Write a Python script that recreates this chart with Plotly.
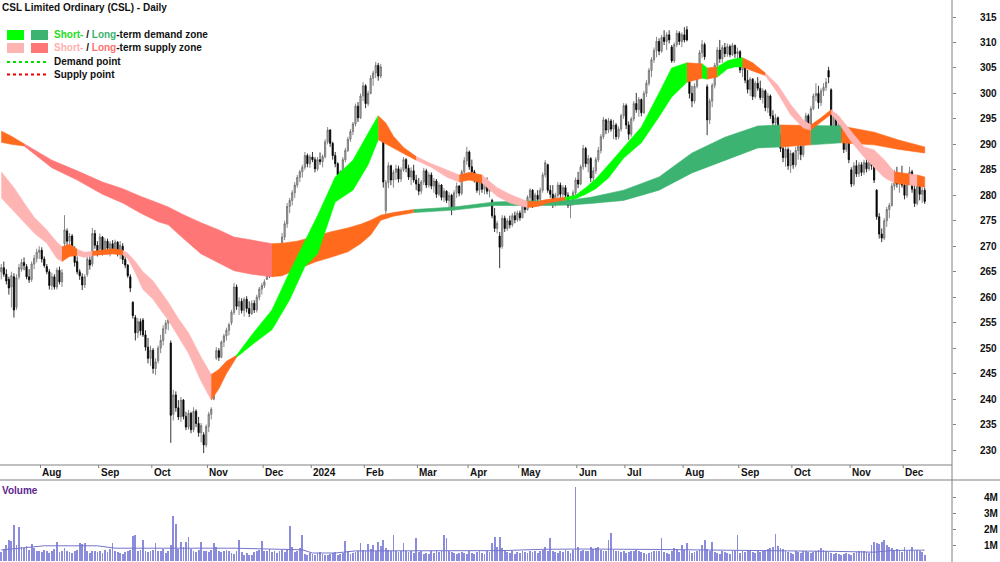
import numpy as np
import pandas as pd
import plotly.graph_objects as go

# ---------------- data ----------------
OPEN = [
265.0,265.8,264.5,263.5,262.0,264.0,258.0,264.0,265.5,266.8,
266.0,264.0,263.5,266.5,267.6,268.8,269.2,267.5,266.0,265.0,
262.3,264.0,262.0,265.3,263.0,270.5,273.0,271.0,272.0,269.5,
267.0,265.0,264.0,262.4,264.5,267.3,266.5,272.5,270.2,269.5,
271.8,269.0,271.0,269.5,270.5,269.2,270.8,269.0,270.0,267.4,
266.3,264.0,259.0,256.0,253.0,255.2,255.5,252.6,250.2,248.0,
249.6,246.0,247.5,250.0,251.5,253.8,254.9,251.0,237.0,240.8,
238.3,236.5,239.8,236.6,234.5,237.2,234.0,237.6,235.2,233.4,
233.0,231.0,234.6,237.0,240.0,248.0,249.5,248.2,251.2,252.4,
253.5,255.0,257.0,262.0,258.2,259.2,257.4,259.6,257.8,256.8,
258.8,257.5,260.0,261.6,262.3,263.5,266.8,264.5,267.8,265.5,
267.6,270.0,271.8,274.4,277.8,279.0,280.5,282.0,283.5,284.6,
285.5,287.8,286.2,287.5,287.0,285.2,287.0,286.6,287.6,290.5,
292.8,290.2,287.8,286.2,284.0,284.6,287.0,288.8,291.0,292.5,
294.0,297.5,295.2,299.5,301.5,298.0,300.0,303.0,304.0,305.5,
303.4,291.0,277.0,282.5,285.8,283.0,284.5,285.2,283.2,285.0,
287.0,285.3,283.6,284.8,283.0,282.2,280.8,282.6,284.8,282.0,
284.0,281.8,282.8,280.2,282.0,279.6,280.8,279.0,280.0,277.5,
280.5,281.8,280.4,284.6,286.8,288.5,285.6,284.6,283.2,281.0,
283.0,281.2,282.6,280.8,279.0,276.0,273.5,272.0,270.0,275.5,
273.5,275.0,274.2,276.0,275.2,276.5,275.6,278.2,277.2,279.6,
281.0,278.2,280.0,279.2,281.0,284.0,286.0,281.0,280.2,278.2,
280.0,282.0,280.2,281.5,280.0,278.0,278.6,280.5,283.0,282.2,
285.6,289.2,286.2,287.2,283.4,284.8,287.0,288.8,291.5,294.8,
292.8,294.6,293.0,293.8,291.5,293.0,295.6,297.6,293.8,292.0,
295.0,298.0,296.8,298.8,296.2,300.0,302.0,304.5,306.6,308.4,
310.2,308.3,311.0,310.2,311.5,309.1,306.4,309.6,311.8,310.2,
311.5,312.5,304.0,300.0,298.5,301.4,304.0,308.0,309.6,301.3,
294.8,298.5,301.6,305.5,308.5,306.8,309.0,307.8,309.2,307.6,
309.4,307.8,308.2,304.6,305.8,302.6,300.8,302.8,299.4,302.0,
301.0,299.2,300.5,297.2,299.5,295.6,294.2,295.2,291.2,289.2,
287.4,289.0,285.8,288.2,286.0,288.8,289.6,288.0,293.0,295.6,
293.5,297.0,299.5,300.0,298.2,300.5,301.2,304.5,300.7,293.5,
295.5,292.8,293.8,291.2,289.0,290.8,285.0,282.2,285.8,284.2,
286.0,284.5,286.4,285.2,287.2,285.8,281.0,275.8,272.4,271.6,
275.0,277.2,278.0,281.8,284.2,282.2,283.4,282.0,280.0,283.0,
284.6,281.2,278.4,281.8,280.2,281.0]

HIGH = [
266.5,267.0,265.5,264.0,265.0,264.7,264.5,266.5,267.5,267.8,
266.5,265.5,267.0,268.3,269.5,270.0,269.8,268.0,266.5,265.5,
264.8,264.5,265.8,266.0,265.5,276.1,273.5,272.6,272.4,270.0,
268.0,265.5,264.7,264.5,268.3,268.0,273.6,273.2,271.0,272.5,
272.0,271.6,271.5,271.0,271.2,271.3,271.0,271.0,270.6,268.5,
266.5,264.5,259.2,256.5,255.9,255.8,255.9,253.5,252.0,250.5,
250.0,248.0,250.5,252.6,254.5,255.5,256.1,251.5,241.8,241.5,
239.8,240.4,240.0,237.5,237.9,237.5,238.4,238.0,236.5,235.3,
233.5,235.0,237.5,238.4,244.3,250.2,250.0,251.5,252.8,254.0,
255.0,257.5,262.8,262.5,260.0,259.8,260.0,260.2,259.2,259.4,
259.4,260.5,262.0,262.8,263.5,267.3,267.0,268.6,268.5,268.0,
270.5,272.6,275.0,278.5,279.5,281.0,282.6,284.0,285.0,286.0,
288.5,288.2,288.0,288.5,287.5,287.5,288.4,288.0,291.0,293.4,
293.0,290.5,288.5,286.5,285.0,287.5,289.3,291.5,293.0,294.4,
298.0,298.3,300.0,302.2,301.8,300.5,303.6,304.5,306.2,306.0,
305.8,292.0,283.0,286.5,286.0,285.0,286.0,285.8,285.5,287.5,
287.3,286.0,285.5,286.0,284.0,283.4,283.0,285.4,285.2,284.5,
284.5,283.4,283.2,282.5,282.2,281.4,281.0,280.6,280.3,281.0,
282.5,282.0,285.0,287.5,289.5,288.8,287.0,285.0,284.0,283.5,
283.5,283.0,283.5,282.4,279.3,277.5,275.0,272.8,276.1,276.0,
275.5,276.0,276.5,276.8,277.0,277.0,278.7,278.5,280.0,281.4,
281.2,280.5,281.0,281.5,284.5,286.9,286.2,282.0,282.0,280.5,
282.6,282.5,282.0,282.0,280.6,279.0,281.0,283.5,284.6,286.0,
289.9,289.5,287.9,287.5,285.5,287.5,289.5,292.0,295.4,295.0,
295.2,295.0,294.8,294.2,293.5,296.0,298.1,298.0,294.5,295.4,
298.5,300.1,299.3,299.0,300.5,302.6,305.0,307.1,309.0,311.1,
310.8,311.5,312.4,312.0,312.4,309.5,310.0,312.4,312.2,312.0,
313.0,313.2,304.6,301.5,302.0,304.5,308.5,310.5,310.0,301.8,
299.0,302.0,306.0,309.1,310.5,309.5,309.9,309.8,309.6,309.9,
309.6,309.0,308.5,306.5,306.0,304.6,303.2,303.0,302.5,303.2,
302.5,301.0,300.8,300.1,299.8,296.7,296.0,295.5,292.0,290.9,
289.5,289.4,288.9,288.5,289.5,290.3,290.0,293.5,296.2,296.0,
297.5,300.0,302.0,301.5,301.0,302.0,303.0,305.2,301.0,296.2,
296.0,294.5,294.0,292.8,291.5,291.0,285.5,286.5,286.9,286.5,
286.5,287.0,287.5,287.8,288.0,286.3,281.2,276.5,273.5,275.5,
277.7,278.5,282.4,285.0,285.6,284.0,285.8,283.8,283.5,285.6,
285.0,283.0,282.4,282.5,281.6,281.5]

LOW = [
263.5,264.0,262.5,260.5,258.0,256.0,257.5,263.5,265.0,265.3,
263.5,262.8,263.0,265.5,266.8,267.5,266.8,265.8,264.5,261.5,
261.4,261.5,261.5,262.5,262.0,269.3,270.0,269.5,268.5,266.0,
264.5,263.4,261.4,261.8,264.0,265.4,266.0,269.5,268.0,269.0,
268.2,268.5,269.0,268.0,268.5,268.8,268.0,267.5,266.5,265.7,
263.8,261.0,255.8,251.5,252.0,252.5,252.2,249.5,247.0,246.5,
245.0,244.7,247.0,249.0,250.5,252.8,253.5,231.4,235.8,237.5,
235.9,235.5,236.0,233.9,234.0,233.3,233.5,234.5,232.6,231.5,
229.4,230.5,233.5,236.0,239.8,247.7,247.5,248.0,250.2,251.5,
252.5,254.5,256.5,257.5,256.5,256.8,256.2,257.0,256.1,256.5,
256.9,257.0,259.4,260.5,261.8,263.4,263.8,264.0,264.7,265.0,
267.0,268.6,271.2,273.6,276.5,278.0,279.5,281.5,282.6,283.5,
285.0,285.5,285.4,286.5,284.5,284.8,286.0,285.5,287.2,290.0,
289.5,287.0,285.5,283.5,282.4,284.0,286.5,288.5,290.5,291.8,
293.5,294.4,295.0,298.5,297.1,297.5,299.8,301.5,303.0,302.5,
303.0,281.5,275.5,281.4,282.0,281.5,283.0,282.5,282.6,284.6,
284.5,283.0,282.0,282.5,281.0,280.0,280.2,282.0,281.4,281.5,
281.2,280.5,279.5,279.8,279.0,278.7,278.5,277.5,276.1,277.0,
279.5,279.8,280.0,284.0,286.0,285.0,284.0,282.5,280.5,280.0,
280.5,280.2,280.2,279.6,275.5,272.8,272.5,265.7,269.5,272.8,
273.0,273.5,273.8,274.5,274.8,275.0,275.5,276.5,277.0,278.5,
277.5,277.8,278.8,279.0,280.5,283.5,280.5,279.5,277.5,277.8,
279.5,279.5,279.6,279.5,277.5,275.5,278.0,280.0,281.4,282.0,
285.0,285.5,284.5,282.6,281.6,284.2,286.5,288.2,291.0,292.0,
292.2,292.5,291.0,290.9,291.0,292.5,295.0,293.0,290.9,291.5,
294.5,296.2,295.4,295.5,296.0,299.3,301.5,303.2,306.0,307.1,
307.5,308.0,309.5,308.5,309.8,306.0,306.0,309.1,309.5,309.1,
310.0,310.2,299.0,297.3,298.0,301.0,303.5,307.0,306.6,291.8,
294.0,297.3,301.0,304.6,306.0,306.0,307.1,307.2,307.1,307.3,
307.0,306.5,304.0,303.2,302.0,300.0,299.5,298.7,299.0,300.5,
298.7,298.0,296.5,296.2,295.0,293.4,293.0,290.5,288.5,286.5,
285.6,285.0,284.4,285.2,285.5,287.0,286.9,287.5,292.2,292.5,
293.0,296.7,298.5,297.0,297.5,299.5,300.5,302.0,292.8,292.5,
292.2,291.5,290.5,288.3,288.5,286.3,281.6,281.8,283.6,283.6,
283.8,284.0,284.5,284.8,285.0,282.4,275.2,271.5,270.8,271.2,
273.8,275.5,277.8,281.0,281.5,280.5,281.5,279.2,279.5,282.0,
280.5,277.7,278.0,279.0,278.5,278.3]

CLOSE = [
265.8,264.5,263.2,261.8,264.2,257.5,263.8,265.8,266.8,266.2,
264.0,263.4,266.5,267.6,268.8,269.2,267.5,266.2,265.0,262.3,
264.0,262.0,265.3,263.0,264.8,273.2,271.0,272.0,269.2,266.8,
265.0,264.2,262.4,264.0,267.5,266.3,272.5,270.2,269.0,271.8,
268.8,271.0,269.6,270.5,269.2,270.8,268.8,270.2,267.4,266.3,
264.2,261.8,256.4,253.0,255.2,253.4,252.6,250.2,248.0,249.6,
246.0,247.3,250.0,251.5,253.8,254.9,255.6,236.8,240.8,238.3,
236.5,239.8,236.6,234.5,237.2,234.0,237.6,235.2,233.4,234.8,
231.0,234.6,237.0,238.0,244.0,249.5,248.2,251.2,252.4,253.5,
254.6,257.0,262.0,258.2,259.2,257.4,259.6,257.8,256.8,258.8,
257.5,260.0,261.6,262.3,263.0,266.8,264.2,267.8,265.5,267.6,
270.0,271.8,274.4,277.8,279.0,280.5,282.0,283.5,284.6,285.5,
287.8,286.2,287.5,287.0,285.2,287.0,286.6,287.6,290.5,292.8,
290.2,287.8,286.2,284.0,284.6,287.0,288.8,291.0,292.5,294.0,
297.5,295.2,299.5,301.5,298.0,300.0,303.0,304.0,305.5,303.4,
305.2,282.6,282.5,285.8,283.0,284.5,285.2,283.2,285.0,287.0,
285.3,283.6,284.8,283.0,282.2,280.8,282.6,284.8,282.0,284.0,
281.8,282.8,280.2,282.0,279.6,280.8,279.0,280.0,277.2,280.5,
281.8,280.4,284.6,286.8,288.5,285.6,284.6,283.2,281.0,283.0,
281.2,282.6,280.8,281.8,276.0,273.5,274.5,269.8,275.5,273.5,
275.0,274.2,276.0,275.2,276.5,275.6,278.2,277.2,279.6,281.0,
278.2,280.0,279.2,281.0,284.0,286.4,281.0,280.2,278.2,280.0,
282.0,280.2,281.5,280.0,278.0,278.6,280.5,283.0,282.2,285.6,
289.2,286.2,287.2,283.4,284.8,287.0,288.8,291.5,294.8,292.8,
294.6,293.0,293.8,291.5,293.0,295.6,297.6,293.8,292.0,295.0,
298.0,296.8,298.8,296.2,300.0,302.0,304.5,306.6,308.4,310.2,
308.3,311.0,310.2,311.5,310.5,306.4,309.6,311.8,310.2,311.5,
310.5,310.5,300.0,298.5,301.4,304.0,308.0,309.6,307.2,294.8,
298.5,301.6,305.5,308.5,306.8,309.0,307.8,309.2,307.6,309.4,
307.8,308.2,304.6,305.8,302.6,300.8,302.8,299.4,302.0,301.0,
299.2,300.5,297.2,299.5,295.6,294.2,295.2,291.2,289.2,287.4,
289.0,285.8,288.2,286.0,288.8,289.6,288.0,293.0,295.6,293.5,
297.0,299.5,300.0,298.2,300.5,301.2,302.2,303.2,293.5,295.5,
292.8,293.8,291.2,289.0,290.8,287.0,282.2,285.8,284.2,286.0,
284.5,286.4,285.2,287.2,285.8,283.0,275.8,272.4,271.6,275.0,
277.2,278.0,281.8,284.2,282.2,283.4,282.0,280.0,283.0,284.6,
281.2,278.4,281.8,280.2,281.0,278.8]

VOLUME_M = [
0.55,0.75,1.0,1.3,1.25,2.25,1.0,2.1,0.9,0.8,
0.95,0.7,1.05,0.8,0.65,0.6,0.55,0.7,0.6,0.5,
0.6,0.75,1.2,0.55,0.65,0.8,0.6,0.55,0.5,0.6,
0.7,1.1,1.05,1.1,0.6,0.5,0.6,0.65,0.55,0.6,
0.5,0.7,0.55,0.75,1.1,0.6,0.55,0.5,0.45,0.55,
0.6,0.7,1.55,1.65,0.6,0.7,1.3,0.65,0.55,0.6,
0.7,1.1,0.65,0.6,0.75,0.5,0.65,1.0,2.8,2.3,
0.75,1.2,0.9,1.2,1.5,0.75,0.6,0.55,0.7,1.2,
0.6,0.65,0.55,0.7,1.15,0.9,0.6,0.55,0.65,0.7,
0.6,0.5,0.45,0.6,1.3,0.55,0.4,0.5,0.35,0.4,
0.55,0.6,0.7,1.25,0.65,0.6,0.75,0.55,0.6,0.5,
0.6,0.7,0.55,0.75,2.2,0.9,0.55,0.6,0.8,1.6,
0.45,0.4,0.5,0.45,0.4,0.5,0.55,0.45,0.4,0.35,
0.45,0.5,0.55,0.4,0.45,0.5,1.25,0.6,0.45,0.5,
0.55,0.6,1.15,0.7,0.6,1.05,0.75,1.0,0.6,1.2,
0.95,1.3,0.8,0.7,0.65,1.6,0.6,0.55,0.65,1.15,
0.6,0.55,0.6,0.5,1.45,0.55,0.6,0.45,0.5,0.45,
0.6,0.5,0.7,0.55,0.6,1.6,1.45,0.6,0.55,0.5,
0.45,0.5,0.55,0.5,0.45,0.6,0.5,0.45,0.55,0.6,
0.5,0.45,0.6,0.55,1.1,1.5,0.9,1.5,0.8,0.6,
0.55,0.5,0.6,0.45,0.55,0.5,0.6,0.55,0.5,0.6,
0.55,0.65,0.5,0.6,0.7,0.9,0.65,1.45,0.6,0.55,
0.5,0.6,0.55,0.7,0.6,0.5,0.7,4.6,0.85,0.6,
0.7,0.65,0.6,0.9,0.75,0.8,0.85,0.7,0.6,0.65,
1.3,1.75,0.7,0.6,0.65,0.55,0.6,0.5,0.55,0.6,
0.65,0.7,0.6,0.55,0.5,0.45,0.5,0.55,0.6,0.65,
0.6,1.45,0.55,0.5,0.45,0.6,0.8,0.75,0.55,1.0,
0.7,1.15,0.6,0.5,0.55,0.6,0.7,1.0,1.3,0.75,
0.6,1.2,0.55,0.5,0.45,0.6,0.55,0.5,0.45,0.6,
0.6,1.6,0.5,0.6,0.55,0.7,0.6,0.55,0.5,0.6,
0.55,0.65,0.7,0.75,0.8,0.9,1.7,0.95,0.8,0.75,
0.6,0.55,0.5,0.45,0.6,0.55,0.5,0.6,0.65,0.55,
0.5,0.55,0.6,0.7,0.8,0.7,0.6,0.55,0.5,0.45,
0.5,0.45,0.4,0.45,0.5,0.45,0.4,0.5,0.55,0.6,
0.65,0.6,0.55,0.5,1.0,1.2,1.1,1.05,1.2,1.3,
1.0,0.9,0.8,0.6,0.75,0.65,0.55,0.9,0.6,0.7,
0.85,0.65,0.7,0.6,0.55,0.4]

# volume moving-average line
VMA_IDX = [0, 17, 38, 45, 92, 110, 119, 123, 132, 140, 198, 214, 230, 260, 290, 330, 345, 352, 365]
VMA_M = [0.69, 0.95, 0.95, 0.8, 0.8, 0.73, 0.7, 0.5, 0.5, 0.63, 0.65, 0.73, 0.75, 0.72, 0.68, 0.6, 0.55, 0.66, 0.68]

# short-term zone edges (knots) and colour of the stretch that follows each knot
ST_IDX = [0,5,10,13,18,22,24,27,30,33,36,40,44,48,50,53,56,60,63,66,70,74,79,83,86,89,93,
          100,107,114,120,125,132,139,145,149,152,155,159,164,170,176,181,185,190,196,201,
          208,212,216,220,223,227,231,235,240,246,253,260,265,271,277,279,283,287,290,293,
          297,302,307,312,317,320,324,328,331,336,341,345,349,353,359,362,365]
ST_TOP = [284.6,281.5,277.8,275.7,273.2,270.8,269.9,270.4,269.4,268.8,269.0,269.3,269.5,269.2,
          268.6,267.0,265.0,263.2,261.2,259.0,255.8,253.0,248.2,244.8,245.8,247.4,248.6,
          253.2,257.5,265.0,271.0,276.0,283.6,286.9,292.2,295.6,294.2,291.6,289.4,287.6,
          286.2,285.0,284.0,284.5,284.0,281.5,280.2,278.8,278.8,279.2,279.5,279.6,280.0,
          281.5,283.2,286.0,289.5,293.4,300.1,305.0,306.0,305.8,305.0,305.2,306.4,306.8,
          307.0,306.0,304.0,301.6,297.8,294.8,293.8,295.2,296.8,295.6,292.5,289.5,288.9,
          287.0,284.6,284.2,284.0,283.6]
ST_BOT = [279.5,276.8,274.2,272.6,270.6,267.6,267.0,268.0,268.2,267.8,268.2,268.4,268.5,268.3,
          267.6,264.8,261.5,259.6,257.5,255.5,252.2,249.0,243.5,239.8,242.0,245.0,248.2,
          251.0,253.6,259.5,266.0,268.5,278.7,281.0,286.0,290.9,290.0,289.3,288.2,286.9,
          285.5,283.6,282.6,283.0,282.4,279.8,278.5,277.6,277.8,278.5,278.9,279.1,279.3,
          280.2,281.3,283.4,287.3,290.3,295.4,299.3,302.2,303.0,302.8,303.2,304.8,305.2,
          305.2,304.4,303.5,300.0,295.8,293.2,292.8,294.4,295.9,294.2,290.5,287.5,285.6,
          283.5,282.4,282.0,281.8,281.6]
ST_COL = ['P','P','P','P','P','P','O','O','P','P','O','O','O','P','P','P','P','P','P','P','P','P','P',
          'O','O','O','G','G','G','G','G','G','G','G','G','O','O','O','O','P','P','P','O','O','P','P','P',
          'O','O','O','O','G','G','G','G','G','G','G','G','G','O','G','O','G','G','G','O',
          'O','P','P','P','P','O','O','P','P','P','P','P','P','O','P','O','O']

# long-term zone edges (knots) and colours
LT_IDX = [0,4,9,20,30,40,48,55,62,66,72,79,86,92,99,107,111,117,124,130,137,142,146,150,155,
          163,170,179,195,216,225,233,246,260,273,286,299,308,320,332,345,355,365]
LT_TOP = [292.6,291.6,290.1,286.9,284.8,282.6,281.3,279.8,278.5,277.7,276.2,274.6,273.2,271.8,
          271.2,270.5,270.6,271.0,272.0,272.8,273.6,274.3,275.1,276.1,276.6,277.2,277.4,277.7,
          278.7,278.9,279.1,279.6,281.0,283.6,288.3,291.4,293.6,293.8,293.7,293.6,292.4,290.8,
          289.5]
LT_BOT = [290.4,290.0,289.7,285.4,283.0,280.2,278.5,276.5,274.8,274.2,271.5,268.5,266.8,265.2,
          264.5,264.0,264.2,265.5,266.9,267.8,268.9,270.5,272.2,275.1,275.9,276.6,276.9,277.1,
          278.0,278.0,278.1,278.4,279.0,281.0,284.4,286.9,289.3,289.5,289.9,290.3,289.9,289.0,
          288.3]
LT_COL = ['O','O','R','R','R','R','R','R','R','R','R','R','R','R','R','O','O','O','O','O','O','O',
          'O','O','O','D','D','D','D','D','D','D','D','D','D','D','D','O','D','O','O','O','O']

PRICE_TICKS = [230, 235, 240, 245, 250, 255, 260, 265, 270, 275, 280, 285, 290, 295, 300, 305, 310, 315]
VOL_TICKS = [1, 2, 3, 4]
VOL_TICK_TEXT = ['1M', '2M', '3M', '4M']
MONTH_NAMES = ['Jan', 'Feb', 'Mar', 'Apr', 'May', 'Jun', 'Jul', 'Aug', 'Sep', 'Oct', 'Nov', 'Dec']
HOLIDAYS = ['2023-12-25', '2023-12-26', '2024-01-01', '2024-01-26', '2024-03-29',
            '2024-04-01', '2024-04-25', '2024-06-10']

ZONE_COLORS = {'G': '#00ff00', 'D': '#3cb371', 'P': '#ffb4b4', 'R': '#ff7676', 'O': '#ff6a1c'}

# ---------------- trading calendar ----------------
days = pd.bdate_range('2023-07-10', '2024-12-31')
days = days[~days.isin(pd.to_datetime(HOLIDAYS))]
n = len(CLOSE)
days = days[:n]
xi = np.arange(n)

month_pos, month_txt = [], []
for k in range(1, n):
    if days[k].month != days[k - 1].month:
        month_pos.append(k - 0.5)
        month_txt.append(str(days[k].year) if days[k].month == 1 else MONTH_NAMES[days[k].month - 1])

# ---------------- geometry helpers ----------------
W, H = 1000, 562
PLOT_W = 952
def px(x):
    return x / PLOT_W
def py(y):
    return (H - y) / H

FONT = 'Liberation Sans, Arial, sans-serif'

fig = go.Figure()

def add_zone(idx, top, bot, cols):
    start = 0
    m = len(idx)
    for k in range(1, m):
        if k == m - 1 or cols[k] != cols[start]:
            xs = list(idx[start:k + 1]) + list(idx[start:k + 1])[::-1]
            ys = list(top[start:k + 1]) + list(bot[start:k + 1])[::-1]
            c = ZONE_COLORS[cols[start]]
            fig.add_trace(go.Scatter(x=xs, y=ys, fill='toself', fillcolor=c, mode='lines',
                                     line=dict(color=c, width=0.6), hoverinfo='skip',
                                     showlegend=False, xaxis='x', yaxis='y'))
            start = k

add_zone(LT_IDX, LT_TOP, LT_BOT, LT_COL)
add_zone(ST_IDX, ST_TOP, ST_BOT, ST_COL)

fig.add_trace(go.Candlestick(
    x=xi, open=OPEN, high=HIGH, low=LOW, close=CLOSE,
    increasing=dict(line=dict(color='#6a6a6a', width=0.8), fillcolor='#b4b4b4'),
    decreasing=dict(line=dict(color='#000000', width=0.8), fillcolor='#000000'),
    whiskerwidth=0, showlegend=False, xaxis='x', yaxis='y'))

fig.add_trace(go.Bar(x=xi, y=VOLUME_M, width=0.32, marker=dict(color='#8c8cdc', line=dict(width=0)),
                     showlegend=False, xaxis='x2', yaxis='y2'))
fig.add_trace(go.Scatter(x=VMA_IDX, y=VMA_M, mode='lines', line=dict(color='#7474cc', width=1),
                         showlegend=False, xaxis='x2', yaxis='y2'))

XR = [-0.5, -0.5 + PLOT_W / 2.53]
MAIN_BOTTOM = 465
VOL_TOP = 481

fig.update_layout(
    width=W, height=H, margin=dict(l=0, r=W - PLOT_W, t=0, b=0),
    paper_bgcolor='white', plot_bgcolor='white',
    xaxis=dict(domain=[0, 1], range=XR, showgrid=False, zeroline=False, showticklabels=False,
               ticks='', showline=False, anchor='y', rangeslider=dict(visible=False)),
    yaxis=dict(domain=[py(MAIN_BOTTOM), 1], range=[230 - 15 / 5.094, 315 + 17 / 5.094], side='right',
               showgrid=False, zeroline=False, showline=False, tickvals=PRICE_TICKS,
               ticks='outside', ticklen=3, tickcolor='#808080',
               tickfont=dict(family=FONT, size=10, color='#111111', weight='bold'),
               ticklabelstandoff=22, anchor='x'),
    xaxis2=dict(domain=[0, 1], range=XR, showgrid=False, zeroline=False, showticklabels=False,
                ticks='', showline=False, anchor='y2', matches='x'),
    yaxis2=dict(domain=[0, py(VOL_TOP)], range=[-1 / 16, (561 - VOL_TOP) / 16], side='right',
                showgrid=False, zeroline=False, showline=False, tickvals=VOL_TICKS,
                ticktext=VOL_TICK_TEXT, ticks='outside', ticklen=3, tickcolor='#808080',
                tickfont=dict(family=FONT, size=10, color='#111111', weight='bold'),
                ticklabelstandoff=26, anchor='x2'),
    showlegend=False, bargap=0,
)

shapes = []
# right axis line & date band borders
shapes.append(dict(type='line', xref='paper', yref='paper', x0=1, x1=1, y0=0, y1=1,
                   line=dict(color='#808080', width=1)))
shapes.append(dict(type='line', xref='paper', yref='paper', x0=0, x1=1, y0=py(MAIN_BOTTOM), y1=py(MAIN_BOTTOM),
                   line=dict(color='#808080', width=1)))
shapes.append(dict(type='line', xref='paper', yref='paper', x0=0, x1=W / PLOT_W, y0=py(480), y1=py(480),
                   line=dict(color='#808080', width=1)))
annotations = []
for pos, txt_ in zip(month_pos, month_txt):
    shapes.append(dict(type='line', xref='x', yref='paper', x0=pos, x1=pos, y0=py(MAIN_BOTTOM),
                       y1=py(MAIN_BOTTOM + 3), line=dict(color='#808080', width=1)))
    annotations.append(dict(x=pos, y=py(472.5), xref='x', yref='paper', text='<b>%s</b>' % txt_,
                            showarrow=False, xanchor='left', yanchor='middle', xshift=0,
                            font=dict(family=FONT, size=10, color='#111111')))

# legend swatches
sw = [(7, 30, 24, 40, '#00ff00'), (31, 30, 48, 40, '#3cb371'),
      (7, 43, 24, 53, '#ffb4b4'), (31, 43, 48, 53, '#ff7676')]
for x0, y0, x1, y1, c in sw:
    shapes.append(dict(type='rect', xref='paper', yref='paper', x0=px(x0), x1=px(x1), y0=py(y1), y1=py(y0),
                       fillcolor=c, line=dict(width=0)))
shapes.append(dict(type='line', xref='paper', yref='paper', x0=px(7), x1=px(47), y0=py(62), y1=py(62),
                   line=dict(color='#00dd00', width=2, dash='dot')))
shapes.append(dict(type='line', xref='paper', yref='paper', x0=px(7), x1=px(47), y0=py(74.5), y1=py(74.5),
                   line=dict(color='#ee0000', width=2, dash='dot')))

def txt(x, y, s, color='#111111'):
    annotations.append(dict(x=px(x), y=py(y), xref='paper', yref='paper', text=s, showarrow=False,
                            xanchor='left', yanchor='middle',
                            font=dict(family=FONT, size=10, color=color)))

txt(0, 8, '<b>CSL Limited Ordinary (CSL) - Daily</b>')
txt(52, 35, '<b><span style="color:#22dd22">Short-</span> / <span style="color:#3cb371">Long</span>-term demand zone</b>')
txt(52, 48, '<b><span style="color:#ffb0b0">Short-</span> / <span style="color:#ff7070">Long</span>-term supply zone</b>')
txt(52, 62, '<b>Demand point</b>')
txt(52, 74.5, '<b>Supply point</b>')
txt(0, 490, '<b>Volume</b>', color='#5c2590')

fig.update_layout(shapes=shapes, annotations=annotations)
fig.write_html('out.html', config={'displayModeBar': False})
